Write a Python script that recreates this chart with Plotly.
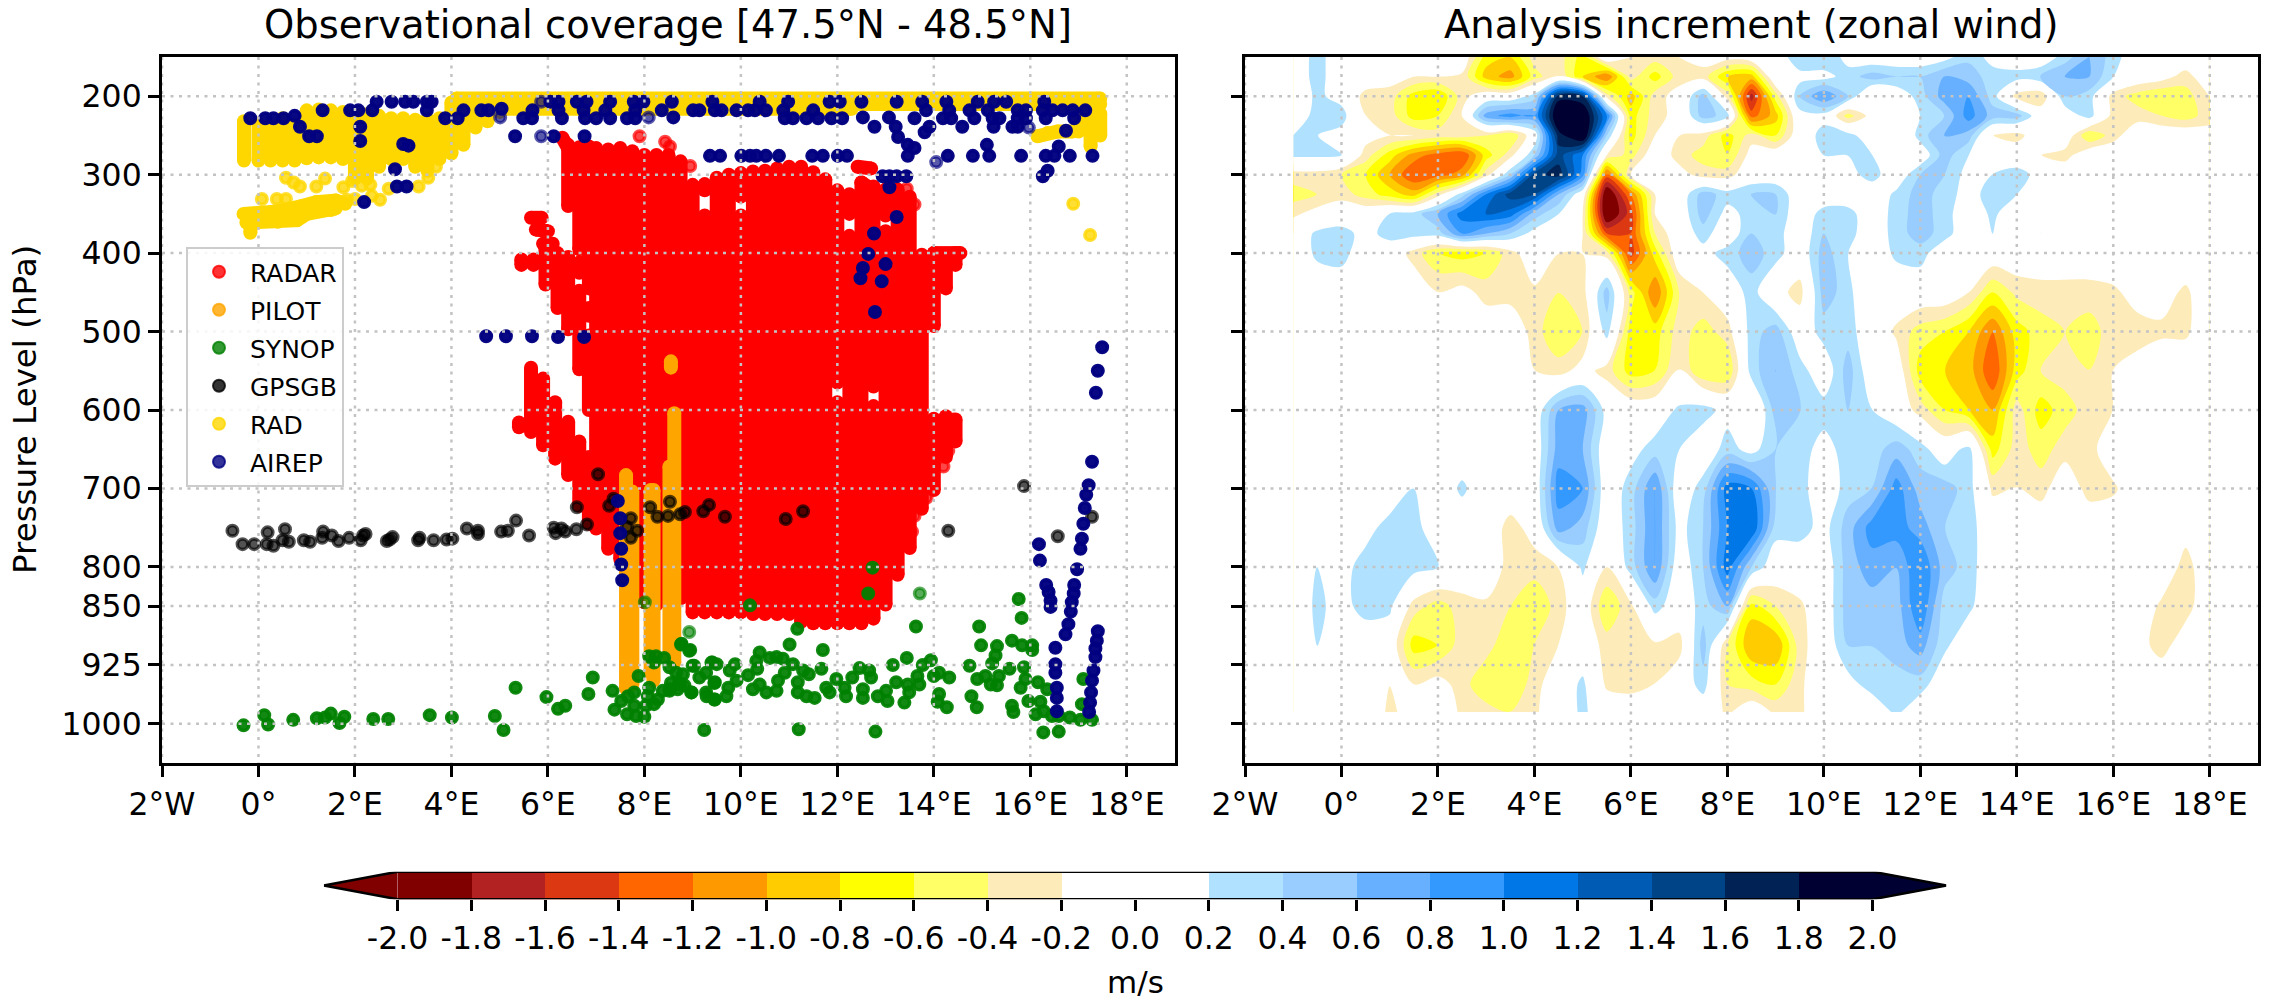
import plotly.graph_objects as go

W, H = 2272, 999
LON_TICKS = [-2, 0, 2, 4, 6, 8, 10, 12, 14, 16, 18]
LON_LABELS = ["2°W", "0°", "2°E", "4°E", "6°E", "8°E", "10°E", "12°E", "14°E", "16°E", "18°E"]
P_TICKS = [200, 300, 400, 500, 600, 700, 800, 850, 925, 1000]

# ---- observation columns / strips: (lon, [(p_top, p_bottom), ...])
RADAR_COLUMNS = [
    (5.45, [(408, 415)]), (5.7, [(408, 415)]),
    (5.4, [(616, 622)]), (5.65, [(546, 628)]), (5.9, [(560, 645)]), (5.95, [(392, 440)]),
    (6.15, [(590, 662)]), (6.2, [(400, 470)]),
    (6.42, [(262, 340), (405, 497), (615, 683)]),
    (6.65, [(265, 395), (412, 425), (448, 548), (640, 722)]),
    (6.85, [(264, 445), (470, 480), (505, 600), (660, 745)]),
    (7.0, [(266, 751)]), (7.25, [(268, 777)]), (7.5, [(266, 790)]), (7.75, [(270, 800)]),
    (8.0, [(275, 845)]), (8.25, [(275, 848)]), (8.5, [(275, 848)]), (8.75, [(283, 840)]),
    (9.0, [(313, 858)]), (9.25, [(312, 320), (352, 858)]), (9.5, [(304, 858)]),
    (9.75, [(300, 858)]), (10.0, [(298, 328), (352, 858)]), (10.25, [(296, 860)]),
    (10.5, [(295, 860)]), (10.75, [(292, 860)]), (11.0, [(290, 860)]), (11.25, [(290, 870)]),
    (11.5, [(297, 872)]), (11.75, [(306, 872)]), (12.0, [(320, 565), (590, 872)]),
    (12.25, [(325, 350), (378, 872)]), (12.5, [(310, 872)]), (12.75, [(315, 570), (595, 866)]),
    (13.0, [(319, 352), (372, 848)]), (13.25, [(319, 810)]), (13.5, [(328, 776)]), (13.75, [(402, 726)]),
    (14.0, [(400, 493), (611, 702)]), (14.25, [(401, 445), (608, 660)]),
    (14.45, [(400, 415), (612, 640)]),
]
RADAR_STRIPS = [
    [(5.65, 355), (5.87, 355)], [(5.75, 370), (6.0, 372)], [(5.9, 388), (6.1, 388)],
    [(6.3, 253), (6.5, 275)], [(12.42, 290), (12.7, 292)], [(12.5, 310), (12.75, 320)],
    [(14.0, 400), (14.55, 400)],
]
RADAR_RINGS = [
    (8.95, 289), (7.9, 251), (8.43, 258), (8.53, 264), (13.44, 318), (13.6, 338),
    (14.0, 612), (14.2, 612), (14.4, 612), (13.9, 632), (14.1, 632), (14.35, 632),
    (13.85, 652), (14.05, 652), (14.3, 652), (13.8, 672), (14.0, 672), (14.2, 672),
    (13.75, 692), (13.95, 692), (13.65, 712), (13.85, 712), (13.6, 735), (13.55, 755),
]
PILOT_COLUMNS = [
    (7.62, [(683, 955)]), (7.75, [(704, 950)]), (8.13, [(702, 935)]), (8.19, [(702, 945)]),
    (8.52, [(672, 915)]), (8.62, [(604, 922)]), (8.55, [(538, 546)]),
]
SYNOP_POINTS = [
    (-.31, 1002), (.12, 989), (.2, 1001), (.72, 995), (1.21, 993), (1.38, 992), (1.5, 987), (1.68, 999), (1.78, 991),
    (2.38, 994), (2.69, 994), (3.55, 989), (4.01, 992), (4.9, 990), (5.08, 1008), (5.33, 954), (5.97, 966), (6.21, 981),
    (6.36, 977), (6.84, 962), (6.93, 941), (7.34, 958), (7.88, 939), (9.24, 1008), (8.76, 899), (8.93, 907),
    (7.38, 982), (7.52, 971), (7.66, 965), (7.79, 960), (7.64, 988), (7.79, 977), (7.83, 990), (8.0, 991), (8.03, 977),
    (8.07, 965), (8.1, 954), (8.2, 975), (8.28, 969), (8.1, 914), (8.24, 914), (8.41, 916), (8.2, 922), (8.52, 928),
    (8.66, 935), (8.8, 937), (8.55, 948), (8.72, 948), (8.38, 958), (8.52, 958), (8.69, 956), (8.83, 951), (9.0, 926),
    (8.97, 960), (9.14, 941), (9.28, 935), (9.41, 922), (9.28, 960), (9.45, 948), (9.45, 969),
    (12.73, 801), (12.64, 834), (10.19, 849), (15.76, 841), (15.82, 865), (14.94, 876), (13.63, 876), (11.17, 879),
    (11.01, 899), (11.7, 906), (8.77, 898), (8.95, 906), (14.98, 900), (15.31, 901), (15.28, 913), (15.21, 923),
    (15.62, 894), (15.83, 900), (16.04, 900), (16.04, 906),
    (9.03, 926), (9.39, 922), (9.5, 924), (9.88, 924), (9.77, 932), (10.15, 938), (10.32, 920), (10.39, 909), (10.34, 930),
    (10.6, 916), (10.74, 915), (10.87, 917), (11.08, 924), (10.91, 935), (11.29, 932), (11.67, 930), (11.41, 937),
    (11.98, 943), (12.31, 941), (12.46, 929), (12.66, 932), (12.7, 941), (13.15, 925), (13.44, 916), (13.94, 919),
    (13.77, 925), (13.66, 939), (13.7, 950), (14.0, 939), (14.11, 935), (14.32, 941), (14.74, 926), (14.9, 943),
    (15.07, 939), (15.35, 939), (15.57, 930), (15.87, 928), (15.9, 943), (15.8, 954),
    (8.53, 956), (8.74, 950), (8.98, 960), (9.29, 965), (9.46, 947), (9.46, 969), (9.7, 965), (9.74, 954), (9.91, 945),
    (10.25, 956), (10.39, 950), (10.53, 960), (10.74, 958), (10.77, 945), (11.18, 947), (11.18, 960), (11.36, 965),
    (11.53, 967), (11.77, 954), (11.84, 960), (12.18, 965), (12.15, 954), (12.53, 967), (12.53, 956), (12.84, 965),
    (13.04, 971), (13.01, 958), (13.22, 947), (13.46, 950), (13.49, 960), (13.39, 973), (14.11, 962), (14.08, 972),
    (14.27, 979), (14.78, 965), (14.89, 979), (15.18, 950), (15.31, 951), (15.62, 977), (15.65, 985), (15.96, 971),
    (16.16, 947), (16.35, 956), (16.21, 972), (16.11, 988), (16.28, 984), (16.45, 990), (16.59, 990), (16.82, 992),
    (17.04, 995), (17.28, 995), (17.1, 943), (17.07, 975), (11.2, 1007), (12.79, 1010), (16.27, 1011), (16.59, 1010),
]
SYNOP_FADED = [(8.01, 845), (8.93, 883), (13.71, 834)]
GPSGB_POINTS = [
    (-.54, 754), (-.33, 771), (-.09, 771), (.19, 756), (.17, 771), (.31, 773), (.55, 752), (.5, 766), (.63, 768), (.94, 766),
    (1.07, 768), (1.34, 755), (1.32, 763), (1.52, 760), (1.66, 767), (1.88, 763), (2.12, 766), (2.17, 760), (2.22, 758),
    (2.66, 767), (2.72, 765), (2.78, 762), (3.31, 766), (3.34, 763), (3.63, 766), (3.9, 765), (4.02, 764), (4.32, 751),
    (4.55, 754), (4.55, 758), (5.03, 755), (5.17, 754), (5.34, 741), (5.61, 760), (6.12, 750), (6.16, 757), (6.28, 751),
    (6.36, 755), (6.59, 752), (6.81, 746), (7.04, 682), (6.6, 724), (7.27, 722), (7.36, 713), (7.72, 738), (7.64, 749),
    (7.85, 754), (7.72, 763), (8.12, 724), (8.27, 736), (8.53, 717), (8.49, 735), (8.74, 733), (8.84, 730), (9.22, 729),
    (9.34, 721), (9.67, 736), (10.93, 739), (11.29, 729), (14.3, 754), (15.87, 697), (16.57, 761), (17.28, 736),
]
RAD_COLUMNS = [
    (-.3, [(232, 282)]), (0, [(235, 282)]), (.25, [(235, 282)]), (.5, [(228, 282)]), (.75, [(235, 282)]),
    (1.0, [(218, 279)]), (1.25, [(217, 278)]), (1.5, [(218, 278)]), (1.75, [(220, 280)]), (2.0, [(222, 305)]),
    (2.25, [(223, 305)]), (2.5, [(225, 290)]), (2.75, [(228, 280)]), (3.0, [(228, 280)]), (3.25, [(230, 290)]),
    (3.5, [(229, 295)]), (3.75, [(228, 280)]), (4.0, [(208, 273)]), (4.25, [(205, 262)]), (4.5, [(205, 240)]),
    (4.75, [(205, 232)]), (5.0, [(205, 220)]), (5.25, [(205, 214)]),
    (17.0, [(225, 245)]), (17.25, [(222, 264)]), (17.45, [(222, 250)]),
]
RAD_STRIPS = [
    [(4.1, 203), (17.45, 203)], [(4.6, 210), (17.45, 210)], [(5.0, 216), (12.3, 216)],
    [(-.31, 350), (.4, 347), (.9, 340), (1.2, 335), (1.6, 333), (1.8, 337)],
    [(-.25, 361), (.4, 360), (.8, 358), (1.0, 350), (1.5, 345), (1.6, 343)],
    [(-.17, 374), (-.15, 362)], [(16.15, 251), (16.36, 247), (16.57, 245), (16.88, 245)],
]
RAD_POINTS = [
    (.07, 331), (.38, 331), (.57, 331), (.57, 304), (.73, 310), (.86, 315), (1.2, 315), (1.38, 305), (1.76, 316), (1.94, 308),
    (2.14, 314), (2.32, 313), (2.7, 318), (3.32, 315), (3.52, 304), (3.68, 290), (2.35, 327), (2.52, 332), (2.0, 331),
    (1.83, 332), (16.89, 337), (17.24, 377),
]
AIREP_POINTS = [
    (-.17, 228), (.14, 228), (.31, 228), (.52, 228), (.75, 225), (.86, 239), (1.05, 251), (1.21, 251), (1.33, 218), (1.9, 218),
    (2.07, 218), (2.36, 218), (2.45, 207), (2.76, 207), (3.04, 207), (3.21, 207), (3.49, 207), (3.59, 207), (3.49, 218),
    (3.87, 228), (4.13, 228), (4.25, 218), (4.62, 218), (4.77, 218), (5.04, 216), (5.49, 228), (5.68, 218), (5.67, 228),
    (6.05, 207), (6.22, 207), (6.22, 218), (6.29, 228), (6.6, 207), (6.8, 207), (6.74, 218), (6.77, 228), (7.0, 228),
    (7.29, 207), (7.19, 218), (7.29, 228), (7.64, 228), (7.78, 207), (7.98, 207), (7.81, 218), (7.81, 228), (8.36, 218),
    (8.57, 207), (8.6, 227), (2.11, 239), (2.11, 257), (3.0, 261), (3.11, 263), (2.83, 293), (2.87, 315), (3.07, 315),
    (2.19, 335), (5.32, 251), (6.12, 251), (6.76, 251),
    (9.01, 218), (9.14, 218), (9.41, 207), (9.46, 218), (9.6, 218), (9.91, 218), (10.15, 218), (10.39, 207), (10.29, 218),
    (10.52, 218), (10.98, 207), (10.88, 218), (10.91, 228), (11.08, 228), (11.36, 228), (11.5, 218), (11.6, 228), (11.84, 207),
    (12.05, 207), (11.88, 228), (12.1, 228), (12.5, 207), (13.23, 207), (12.53, 227), (12.77, 239), (13.07, 227), (13.21, 239),
    (13.26, 252), (13.46, 262), (13.6, 266), (13.46, 276), (13.76, 207), (13.84, 218), (13.6, 228), (13.91, 239), (13.81, 246),
    (14.26, 207), (14.19, 228), (14.36, 228), (14.32, 218), (14.59, 239), (14.84, 228), (14.91, 207), (14.74, 218), (15.25, 207),
    (15.5, 207), (15.12, 218), (15.22, 228), (15.36, 228), (15.24, 239), (15.63, 239), (15.74, 218), (15.91, 218), (15.74, 228),
    (15.91, 228), (15.74, 239), (16.29, 207), (16.26, 218), (16.46, 218), (16.67, 218), (16.32, 228), (16.88, 218), (17.14, 218),
    (16.91, 228), (16.74, 244), (16.59, 264), (16.32, 276), (16.5, 276), (16.82, 276), (17.29, 276), (15.1, 262), (15.15, 276),
    (14.81, 276), (14.29, 276), (15.81, 276), (16.36, 295), (16.26, 302),
    (9.36, 276), (9.57, 276), (10.01, 276), (10.19, 276), (10.32, 276), (10.52, 276), (10.79, 276), (11.48, 276), (11.7, 276),
    (12.01, 276), (12.2, 276), (12.94, 302), (13.08, 302), (13.23, 302), (13.43, 302), (13.08, 316),
    (13.23, 354), (12.76, 375), (12.64, 401), (12.53, 419), (12.48, 432), (13.0, 414), (12.92, 436), (12.78, 475),
    (4.72, 506), (5.13, 506), (5.67, 506), (6.21, 507), (6.75, 507),
    (17.49, 520), (17.4, 550), (17.36, 578), (17.28, 666), (17.21, 696), (17.16, 708), (17.13, 725), (17.1, 745), (17.07, 764),
    (17.04, 777), (16.97, 803), (16.18, 771), (16.2, 792), (16.33, 823), (16.38, 832), (16.42, 843), (16.42, 851), (16.91, 823),
    (16.9, 834), (16.86, 845), (16.84, 857), (16.79, 873), (16.73, 886), (16.52, 903), (16.52, 924), (16.52, 935), (16.55, 954),
    (16.55, 967), (16.55, 984), (17.4, 882), (17.38, 894), (17.35, 904), (17.35, 915), (17.31, 932), (17.28, 945), (17.26, 960),
    (17.24, 973), (17.22, 985), (7.45, 716), (7.5, 738), (7.5, 757), (7.52, 777), (7.52, 797), (7.54, 817),
]
AIREP_FADED = [(5.01, 227), (5.86, 207), (8.09, 227), (5.86, 251), (14.05, 284), (15.97, 240)]
LEGEND_NAMES = ["RADAR", "PILOT", "SYNOP", "GPSGB", "RAD", "AIREP"]
LEGEND_COLORS = ["rgba(255,0,0,.8)", "rgba(255,165,0,.8)", "rgba(0,128,0,.8)", "rgba(0,0,0,.8)", "rgba(255,215,0,.8)", "rgba(0,0,128,.8)"]

# ---- analysis increment field (m/s)
INC_LON = [-1, -.5, 0, .5, 1, 1.5, 2, 2.5, 3, 3.5, 4, 4.5, 5, 5.5, 6, 6.5, 7, 7.5, 8, 8.5,
           9, 9.5, 10, 10.5, 11, 11.5, 12, 12.5, 13, 13.5, 14, 14.5, 15, 15.5, 16, 16.5, 17, 17.5, 18]
INC_P = [150, 175, 200, 225, 250, 275, 300, 325, 350, 375, 400, 450, 500, 550, 600, 650, 700, 750, 800, 850, 900, 950, 985]
INC_Z = [
 [0,.3,0,0,0,0,0,0,-.7,-.8, -.3,-.3,-.7,.1,-.2,-.3,-.2,-.1,-.1,0, 0,.4,.4,.1,0,0,0,.1,.35,.1, 0,0,.3,.6,.3,0,0,0,0],
 [0,.3,0,0,-.1,-.2,-.2,-.25,-.9,-1.1, -.5,-.2,-.8,-1.2,-.3,-.7,-.3,-.3,-.8,-.9, .1,.1,.1,.3,.5,.4,.4,.6,.5,.3, .3,.4,.6,.6,.2,0,-.1,-.3,0],
 [0,.25,.1,-.3,-.3,-.7,-.8,-.3,0,0, .3,1.7,1.6,-.3,-.9,-.3,-.1,.5,-.3,-1.7, -.5,.4,.8,.4,-.2,0,.3,.7,.8,.3, -.3,-.4,.4,.3,-.3,-.5,-.6,-.5,-.2],
 [0,.3,.3,-.2,-.3,-.7,-.6,-.2,.7,.9, .8,2.1,2.1,1,-.7,-.3,-.1,.5,.3,-1.3, -.9,.1,.1,-.5,-.1,0,.2,.4,.9,.5, .5,0,0,.3,-.3,-.3,-.4,-.5,-.3],
 [.2,.2,.1,-.1,-.2,-.2,-.3,-.3,-.4,-.6, 0,1.7,2.1,.4,-.7,-.2,-.2,-.3,-.7,-.3, -.6,0,.3,.3,0,-.2,.3,.6,.5,-.2, -.3,0,0,-.6,-.3,0,0,0,-.1],
 [.25,.25,.2,-.3,-.7,-1.1,-1.3,-1.4,-.7,-.3, .4,1.5,1.0,-.2,-.5,0,-.3,-.5,-.6,-.1, 0,0,.2,.2,.2,-.2,0,.5,.2,0, 0,-.2,-.3,0,0,0,0,0,0],
 [-.3,-.3,-.4,-.6,-1,-1.4,-1.3,-1.1,-.3,.4, 1.5,1.7,.9,-1.3,-.2,0,-.1,-.3,-.3,0, 0,0,0,.1,.3,0,.4,.4,.1,.2, .3,.1,0,0,0,0,0,0,0],
 [-.5,-.4,-.3,-.5,-.7,-.9,-.3,.3,1.0,1.5, 1.4,.6,0,-2.1,-1.2,-.2,0,.5,.3,.4, .4,0,0,0,0,.25,.5,.3,.1,.3, .2,0,0,0,0,0,0,0,0],
 [-.25,-.1,0,0,.2,.3,.6,1.1,1.2,1.1, .5,.2,-.2,-2.1,-1.5,-.2,0,.5,.1,.3, .4,0,.3,.3,0,.3,.5,.3,0,.25, 0,0,0,0,0,0,0,0,0],
 [0,.25,.3,.1,.3,.3,.3,.8,.6,.4, .1,0,-.2,-1.4,-1.4,-.4,0,.3,0,.4, .3,0,.4,.3,0,.3,.5,.3,0,.2, 0,.2,0,0,0,0,0,0,0],
 [0,.25,.3,0,0,-.3,-.6,-.7,-.6,-.3, 0,-.2,-.2,-.3,-1.5,-.7,0,.1,.3,.5, .3,0,.5,.2,0,.25,.3,0,.1,0, 0,0,0,0,0,0,0,0,0],
 [0,0,0,0,0,0,-.2,-.1,-.3,-.3, -.25,-.4,-.3,.5,-.5,-1.2,-.4,-.2,0,.3, -.1,-.3,.5,.3,-.2,0,0,0,-.2,-.6, -.35,-.3,-.3,-.3,-.25,-.1,-.1,-.25,0],
 [0,0,0,0,0,0,0,0,0,0, -.3,-.6,-.4,.3,-.7,-.7,-.3,-.5,-.3,.3, .5,0,.3,.3,0,-.25,-.5,-.6,-.8,-1.2, -.7,-.5,-.4,-.5,-.3,-.3,-.25,-.25,0],
 [0,0,0,0,0,0,0,0,0,0, -.2,-.3,-.1,-.3,-.7,-.6,-.2,-.6,-.6,.3, .6,.3,0,.5,0,0,-.7,-.8,-.9,-1.4, -.7,-.4,-.3,-.4,-.2,-.1,0,0,0],
 [0,0,0,0,0,0,0,0,0,0, 0,.6,.7,.1,0,0,.25,.3,.1,-.2, .5,.4,.3,.4,.2,0,-.3,-.6,-.8,-1, -.3,-.7,-.5,-.3,-.2,0,0,0,0],
 [0,0,0,0,0,0,0,0,0,0, 0,.7,.6,0,.1,.3,.2,0,.3,.1, .4,.3,.1,.3,.3,.5,.3,0,.3,-.7, -.3,-.5,-.3,-.3,0,0,0,0,0],
 [0,0,0,0,0,.2,0,.25,0,0, 0,.9,.8,0,.3,.8,0,.3,1.1,1.0, .4,.3,0,.3,.4,.9,.5,.5,.3,-.25, -.2,-.3,0,-.3,-.25,0,0,0,0],
 [0,0,0,.1,.3,.3,0,0,0,-.3, -.1,.7,.5,0,.3,.8,.1,.4,1,1.2, .3,.3,.1,.5,.9,.9,.7,.4,.3,0, 0,0,0,0,0,0,0,-.1,0],
 [0,.2,.1,.3,.3,.3,.2,0,0,-.3, -.3,-.2,.25,-.2,.3,.8,0,.4,1.1,.4, 0,0,0,.5,.7,.6,1,.5,.3,0, 0,0,0,0,0,0,0,-.3,0],
 [0,.25,.1,.3,.25,-.3,-.5,-.3,-.25,-.4, -.6,-.3,0,-.6,-.25,.3,0,.3,.6,-.7, -.4,-.25,0,.5,.5,.5,1,.3,.25,0, 0,0,0,0,0,0,-.25,-.3,0],
 [0,.2,0,0,0,-.7,-.6,-.3,-.3,-.6, -.4,-.2,0,-.3,-.3,-.25,-.3,.5,-.4,-1, -1,-.3,0,.4,.4,.5,.7,.25,0,0, 0,0,0,0,0,-.1,-.3,-.05,0],
 [0,0,0,0,-.2,-.2,-.1,-.3,-.6,-.6, -.3,0,.25,-.25,-.3,-.2,0,.3,-.4,-.5, -.6,-.25,0,.1,.3,.3,.3,0,0,0, 0,0,0,0,0,0,0,0,0],
 [0,0,0,0,-.25,-.1,0,-.25,-.3,-.4, -.25,0,.25,0,0,0,0,0,-.25,0, -.25,-.25,0,0,0,.25,0,0,0,0, 0,0,0,0,0,0,0,0,0],
]

CB_EDGES = [-2.0, -1.8, -1.6, -1.4, -1.2, -1.0, -0.8, -0.6, -0.4, -0.2, 0.0, 0.2, 0.4, 0.6, 0.8, 1.0, 1.2, 1.4, 1.6, 1.8, 2.0]
CB_LABELS = ["-2.0", "-1.8", "-1.6", "-1.4", "-1.2", "-1.0", "-0.8", "-0.6", "-0.4", "-0.2", "0.0",
             "0.2", "0.4", "0.6", "0.8", "1.0", "1.2", "1.4", "1.6", "1.8", "2.0"]
CB_COLORS = ["#800000", "#b22222", "#dc3912", "#ff6600", "#ff9900", "#ffcc00", "#ffff00", "#ffff66", "#fdebb9", "#ffffff",
             "#ffffff", "#b0e2ff", "#99ccff", "#66b0ff", "#3399ff", "#0077e6", "#005bb5", "#004488", "#002255", "#000033"]


def flatten(columns, strips=()):
    xs, ys = [], []
    for lon, segs in columns:
        for top, bottom in segs:
            xs += [lon, lon, None]
            ys += [top, bottom, None]
    for strip in strips:
        xs += [pt[0] for pt in strip] + [None]
        ys += [pt[1] for pt in strip] + [None]
    return xs, ys


def dots(points, color, size=10.5, lw=3.5):
    return go.Scatter(x=[p[0] for p in points], y=[p[1] for p in points], mode="markers", xaxis="x", yaxis="y",
                      showlegend=False, hoverinfo="skip",
                      marker=dict(size=size, color=color, line=dict(color=color, width=lw)))


def thick(xs, ys, color):
    return go.Scatter(x=xs, y=ys, mode="lines+markers", xaxis="x", yaxis="y", showlegend=False, hoverinfo="skip",
                      line=dict(color=color, width=14), marker=dict(size=14, color=color, line=dict(width=0)))


fig = go.Figure()
rx, ry = flatten(RADAR_COLUMNS, RADAR_STRIPS)
fig.add_trace(thick(rx, ry, "#ff0000"))
fig.add_trace(dots(RADAR_RINGS, "rgba(255,0,0,.72)"))
px_, py_ = flatten(PILOT_COLUMNS)
fig.add_trace(thick(px_, py_, "#ffa500"))
fig.add_trace(dots(SYNOP_POINTS, "rgba(0,128,0,.93)"))
fig.add_trace(dots(SYNOP_FADED, "rgba(0,128,0,.65)"))
fig.add_trace(dots(GPSGB_POINTS, "rgba(0,0,0,.68)"))
yx, yy = flatten(RAD_COLUMNS, RAD_STRIPS)
fig.add_trace(thick(yx, yy, "#ffd700"))
fig.add_trace(dots(RAD_POINTS, "rgba(255,215,0,.8)"))
fig.add_trace(dots(AIREP_POINTS, "rgba(0,0,128,.97)"))
fig.add_trace(dots(AIREP_FADED, "rgba(0,0,128,.65)"))

for name, color in zip(LEGEND_NAMES, LEGEND_COLORS):
    fig.add_trace(go.Scatter(x=[None], y=[None], mode="markers", name=name, legendgroup=name, xaxis="x", yaxis="y",
                             marker=dict(size=12, color=color, line=dict(color=color, width=2))))

# contour colours: 22 bands (below -2, the 20 bins, above 2)
bands = [CB_COLORS[0]] + CB_COLORS + [CB_COLORS[-1]]
# tiny offset keeps values from sitting exactly on a contour level
z_field = [[v + 0.003 for v in row] for row in INC_Z]
fig.add_trace(go.Contour(x=INC_LON, y=INC_P, z=z_field, xaxis="x2", yaxis="y2", showscale=False, hoverinfo="skip",
                         autocontour=False, zauto=False, zmin=-2.1, zmax=2.1,
                         contours=dict(start=-2.0, end=2.0, size=0.2, coloring="fill", showlines=False),
                         line=dict(width=0, smoothing=0.9),
                         colorscale=[[k / 21, c] for k, c in enumerate(bands)]))

# colourbar
fig.add_trace(go.Bar(x=[(a + b) / 2 for a, b in zip(CB_EDGES[:-1], CB_EDGES[1:])], y=[1] * 20, width=[0.2] * 20,
                     marker=dict(color=CB_COLORS, line=dict(width=0)), xaxis="x3", yaxis="y3", showlegend=False, hoverinfo="skip"))
for xs, c in (([-2, -2.2, -2, -2], CB_COLORS[0]), ([2, 2.2, 2, 2], CB_COLORS[-1])):
    fig.add_trace(go.Scatter(x=xs, y=[0, .5, 1, 0], mode="lines", fill="toself", fillcolor=c, line=dict(width=0),
                             xaxis="x3", yaxis="y3", showlegend=False, hoverinfo="skip"))
fig.add_trace(go.Scatter(x=[-2, -2.2, -2, 2, 2.2, 2, -2], y=[0, .5, 1, 1, .5, 0, 0], mode="lines", cliponaxis=False,
                         line=dict(color="black", width=2.5), xaxis="x3", yaxis="y3", showlegend=False, hoverinfo="skip"))

FONT = "DejaVu Sans"
TICK = dict(family=FONT, size=31.5, color="black")


def xdom(a, b):
    return [a / W, b / W]


def ydom(a, b):
    return [1 - b / H, 1 - a / H]


axis_style = dict(showgrid=False, zeroline=False, showline=True, mirror=True, linecolor="black", linewidth=3, automargin=False,
                  ticks="outside", ticklen=11, tickwidth=2.5, tickcolor="black", tickfont=TICK)

shapes = []
for xr, yr in (("x", "y"), ("x2", "y2")):
    for t in LON_TICKS:
        shapes.append(dict(type="line", xref=xr, yref=yr, x0=t, x1=t, y0=150, y1=1050, layer="above",
                           line=dict(color="rgb(195,195,195)", width=2.5, dash="3px,5.5px")))
    for t in P_TICKS:
        shapes.append(dict(type="line", xref=xr, yref=yr, x0=-2, x1=19, y0=t, y1=t, layer="above",
                           line=dict(color="rgb(195,195,195)", width=2.5, dash="3px,5.5px")))

annotations = [
    dict(text="Observational coverage [47.5°N - 48.5°N]", x=668 / W, y=1 - 25 / H, font=dict(family=FONT, size=38.5, color="black")),
    dict(text="Analysis increment (zonal wind)", x=1751 / W, y=1 - 25 / H, font=dict(family=FONT, size=38.5, color="black")),
    dict(text="Pressure Level (hPa)", x=25 / W, y=1 - 410 / H, textangle=-90, font=dict(family=FONT, size=32.5, color="black")),
    dict(text="m/s", x=1135 / W, y=1 - 982 / H, font=dict(family=FONT, size=31, color="black")),
]
for a in annotations:
    a.update(xref="paper", yref="paper", xanchor="center", yanchor="middle", showarrow=False)

fig.update_layout(
    template="none",
    width=W, height=H, margin=dict(l=0, r=0, t=0, b=0), paper_bgcolor="white", plot_bgcolor="white",
    font=dict(family=FONT, color="black"), shapes=shapes, annotations=annotations, bargap=0,
    xaxis=dict(domain=xdom(162, 1175), range=[-2, 19], tickvals=LON_TICKS, ticktext=LON_LABELS, anchor="y", **axis_style),
    yaxis=dict(domain=ydom(57, 763), range=[1050, 150], tickvals=P_TICKS, ticktext=[str(p) for p in P_TICKS], anchor="x", **axis_style),
    xaxis2=dict(domain=xdom(1245, 2258), range=[-2, 19], tickvals=LON_TICKS, ticktext=LON_LABELS, anchor="y2", **axis_style),
    yaxis2=dict(domain=ydom(57, 763), range=[1050, 150], tickvals=P_TICKS, showticklabels=False, anchor="x2", **axis_style),
    xaxis3=dict(domain=xdom(323.85, 1946.35), range=[-2.2, 2.2], tickvals=CB_EDGES, ticktext=CB_LABELS, anchor="y3", automargin=False,
                showgrid=False, zeroline=False, showline=False, ticks="outside", ticklen=11, tickwidth=2.5, tickcolor="black", tickfont=TICK),
    yaxis3=dict(domain=ydom(871.7, 899.3), range=[0, 1], visible=False, anchor="x3", automargin=False),
    legend=dict(x=186 / W, y=1 - 247 / H, xanchor="left", yanchor="top", bgcolor="rgba(255,255,255,.85)", bordercolor="#cccccc",
                borderwidth=2, font=dict(family=FONT, size=25, color="black"), tracegroupgap=2.5, itemwidth=52, itemclick=False),
)
fig.write_html("out.html", post_script="document.body.style.margin='0';", config={"displayModeBar": False})
